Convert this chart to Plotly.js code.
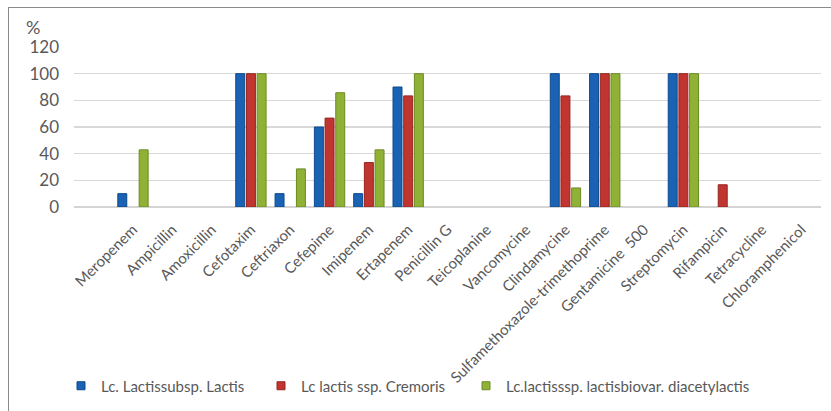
<!DOCTYPE html>
<html>
<head>
<meta charset="utf-8">
<script src="https://cdn.plot.ly/plotly-3.0.1.min.js"></script>
<style>
  html, body { margin:0; padding:0; background:#fff; }
  #wrap { position:relative; width:831px; height:411px; overflow:hidden; }
  #frame { position:absolute; left:8px; top:7px; width:900px; height:500px; border:1.5px solid #8a8a8a; }
  #chart { position:absolute; left:0; top:0; width:831px; height:411px; }
</style>
</head>
<body>
<div id="wrap"><div id="frame"></div><div id="chart"></div></div>
<script>
const categories = ["Meropenem","Ampicillin","Amoxicillin","Cefotaxim","Ceftriaxon","Cefepime","Imipenem","Ertapenem","Penicillin G","Teicoplanine","Vancomycine","Clindamycine","Sulfamethoxazole-trimethoprime","Gentamicine  500","Streptomycin","Rifampicin","Tetracycline","Chloramphenicol"];
const lactis    = [10, 0, 0, 100, 10, 60, 10, 90, 0, 0, 0, 100, 100, 0, 100, 0, 0, 0];
const cremoris  = [0, 0, 0, 100, 0, 66.67, 33.33, 83.33, 0, 0, 0, 83.33, 100, 0, 100, 16.67, 0, 0];
const diacetyl  = [42.86, 0, 0, 100, 28.57, 85.71, 42.86, 100, 0, 0, 0, 14.29, 100, 0, 100, 0, 0, 0];
const seriesNames = ["Lc. Lactissubsp. Lactis", "Lc lactis ssp. Cremoris", "Lc.lactisssp. lactisbiovar. diacetylactis"];
const yTicks = [0, 20, 40, 60, 80, 100, 120];

const colors = ["#1a62b4", "#c0352f", "#8fb236"];
const edges  = ["#0d4a8c", "#962420", "#6c8a22"];
const seriesData = [lactis, cremoris, diacetyl];
const legendIds = ["legend", "legend2", "legend3"];

const bars = seriesData.map((v, i) => ({
  type: "bar",
  x: categories,
  y: v,
  name: seriesNames[i],
  showlegend: false,
  legendgroup: "g" + i,
  marker: { color: colors[i], line: { color: edges[i], width: v.map(d => d > 0 ? 1 : 0) } },
  hoverinfo: "skip"
}));
const legendProxies = seriesNames.map((n, i) => ({
  type: "scatter",
  mode: "markers",
  x: [null], y: [null],
  name: n,
  legend: legendIds[i],
  legendgroup: "g" + i,
  marker: { symbol: "square", size: 8, color: colors[i], line: { color: edges[i], width: 1 } },
  hoverinfo: "skip"
}));

const font = "Lato, 'Open Sans', sans-serif";
const legendBase = (xpx) => ({
  orientation: "h",
  x: (xpx - 74) / 747, xanchor: "left",
  y: (208 - 386) / 161, yanchor: "middle",
  font: { size: 15, color: "#595959", family: font },
  itemwidth: 30,
  bgcolor: "rgba(0,0,0,0)"
});

const layout = {
  width: 831, height: 411,
  margin: { l: 74, r: 10, t: 47, b: 203 },
  paper_bgcolor: "rgba(0,0,0,0)",
  plot_bgcolor: "rgba(0,0,0,0)",
  barmode: "group",
  bargap: 0.185,
  bargroupgap: 0.16,
  font: { family: font, color: "#595959", size: 13 },
  xaxis: {
    type: "category",
    range: [-1.5, 17.5],
    tickangle: -45,
    ticks: "",
    showgrid: false,
    showline: false,
    zeroline: false,
    tickfont: { size: 15, color: "#595959", family: font },
    ticklabelstandoff: 10
  },
  yaxis: {
    range: [0, 120],
    tickvals: yTicks,
    ticktext: yTicks.map(String),
    showgrid: true,
    gridcolor: "#d9d9d9",
    gridwidth: 1.5,
    zeroline: true,
    zerolinecolor: "#d4d4d4",
    zerolinewidth: 2,
    showline: false,
    ticks: "",
    tickfont: { size: 17, color: "#595959", family: font },
    ticklabelstandoff: 14
  },
  annotations: [{
    text: "%", xref: "paper", yref: "paper",
    x: (33 - 74) / 747, y: (208 - 27) / 161,
    xanchor: "center", yanchor: "middle", showarrow: false,
    font: { size: 18, color: "#595959", family: font }
  }],
  showlegend: true,
  legend: legendBase(61),
  legend2: legendBase(261),
  legend3: legendBase(466)
};

Plotly.newPlot("chart", bars.concat(legendProxies), layout, { displayModeBar: false, staticPlot: true });
</script>
</body>
</html>
